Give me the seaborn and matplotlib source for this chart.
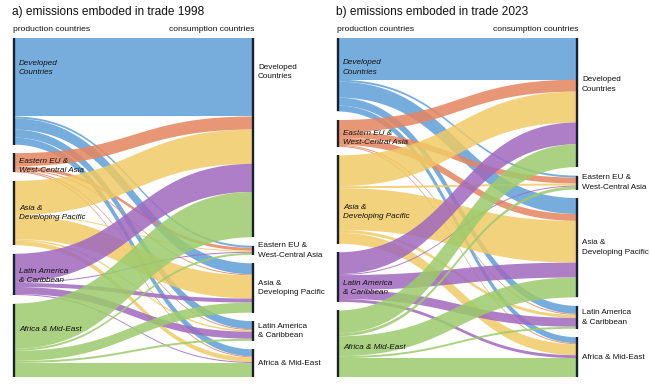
import numpy as np
import matplotlib
matplotlib.use("Agg")
import matplotlib.pyplot as plt
import seaborn as sns
from matplotlib.patches import Polygon

# ---------------- data ----------------
regions = ["Developed Countries", "Eastern EU & West-Central Asia",
           "Asia & Developing Pacific", "Latin America & Caribbean",
           "Africa & Mid-East"]
node_labels = ["Developed\nCountries", "Eastern EU &\nWest-Central Asia",
               "Asia &\nDeveloping Pacific", "Latin America\n& Caribbean",
               "Africa & Mid-East"]
region_colors = ["#5f9fd8", "#e5855e", "#f0ca66", "#a069be", "#9ccb6c"]

# rows: producing region, columns: consuming region
flows_1998 = [
    [78, 2, 11, 8, 7],
    [13, 3, 1, 1, 1],
    [34, 1, 23, 1.5, 4.5],
    [28, 1, 4, 7, 1],
    [45, 2, 10, 2, 14],
]
flows_2023 = [
    [42, 2, 16, 8, 6],
    [12, 6, 7, 1, 1],
    [31, 2, 42, 3, 11],
    [22, 1, 15, 9, 3],
    [23, 3, 20, 2, 19],
]
panel_titles = ["a) emissions emboded in trade 1998",
                "b) emissions emboded in trade 2023"]

# label placement (fraction of node height) -- layout only
left_lab_frac = [[0.28, 0.66, 0.5, 0.54, 0.35], [0.40, 0.67, 0.64, 0.72, 0.55]]
right_lab_frac = [[0.17, 0.5, 0.5, 0.5, 0.5], [0.36, 0.5, 0.5, 0.5, 0.5]]

# ---------------- style ----------------
sns.set_theme(style="white")
plt.rcParams["font.family"] = ["Liberation Sans", "DejaVu Sans"]
W, H = 650, 390
fig = plt.figure(figsize=(W / 100, H / 100), dpi=100)

panel_left_px = [13, 337]
panel_right_px = [254, 578]
top_px, bot_px = 38, 377
bar_color = "#18212c"


def bezier_xs(n=120):
    t = np.linspace(0, 1, n)
    x = 1.5 * (1 - t) ** 2 * t + 1.5 * (1 - t) * t ** 2 + t ** 3
    s = 3 * t ** 2 - 2 * t ** 3
    return x, s


def draw_panel(k, flows):
    F = np.array(flows, dtype=float)
    n = len(regions)
    out_tot = F.sum(axis=1)
    in_tot = F.sum(axis=0)
    total = out_tot.sum()
    gap = 0.028 * total
    span = total + gap * (n - 1)

    x0, x1 = panel_left_px[k], panel_right_px[k]
    ax = fig.add_axes([x0 / W, 1 - bot_px / H, (x1 - x0) / W, (bot_px - top_px) / H])
    ax.set_xlim(0, 1)
    ax.set_ylim(span, 0)
    ax.axis("off")

    ltop = np.concatenate([[0], np.cumsum(out_tot + gap)[:-1]])
    rtop = np.concatenate([[0], np.cumsum(in_tot + gap)[:-1]])

    xs, s = bezier_xs()
    r_off = np.zeros((n, n))
    for j in range(n):
        c = rtop[j]
        for i in range(n):
            r_off[i, j] = c
            c += F[i, j]
    l_off = np.zeros((n, n))
    for i in range(n):
        c = ltop[i]
        for j in range(n):
            l_off[i, j] = c
            c += F[i, j]

    for i in range(n):
        for j in range(n):
            v = F[i, j]
            if v <= 0:
                continue
            ya, yb = l_off[i, j], r_off[i, j]
            top = ya + (yb - ya) * s
            bot = top + v
            poly = np.column_stack([np.r_[xs, xs[::-1]], np.r_[top, bot[::-1]]])
            ax.add_patch(Polygon(poly, closed=True, facecolor=region_colors[i],
                                 edgecolor="none", alpha=0.85, zorder=2))

    for i in range(n):
        ax.plot([0.003, 0.003], [ltop[i], ltop[i] + out_tot[i]], color=bar_color,
                lw=1.7, solid_capstyle="butt", zorder=4, clip_on=False)
        ax.plot([0.997, 0.997], [rtop[i], rtop[i] + in_tot[i]], color=bar_color,
                lw=1.7, solid_capstyle="butt", zorder=4, clip_on=False)
        ax.text(0.025, ltop[i] + left_lab_frac[k][i] * out_tot[i], node_labels[i],
                ha="left", va="center", fontsize=5.9, style="italic",
                color="#111111", linespacing=1.5, zorder=5)
        ax.text(1.017, rtop[i] + right_lab_frac[k][i] * in_tot[i], node_labels[i],
                ha="left", va="center", fontsize=5.9, color="#111111",
                linespacing=1.5, clip_on=False, zorder=5)

    fig.text((x0 - 1) / W, 1 - 12 / H, panel_titles[k], ha="left", va="center",
             fontsize=8.6, color="#111111")
    fig.text(x0 / W, 1 - 29.5 / H, "production countries", ha="left", va="center",
             fontsize=6.1, color="#111111")
    fig.text(x1 / W, 1 - 29.5 / H, "consumption countries", ha="right", va="center",
             fontsize=6.1, color="#111111")


draw_panel(0, flows_1998)
draw_panel(1, flows_2023)

fig.savefig("out.png", dpi=100, facecolor="white")
